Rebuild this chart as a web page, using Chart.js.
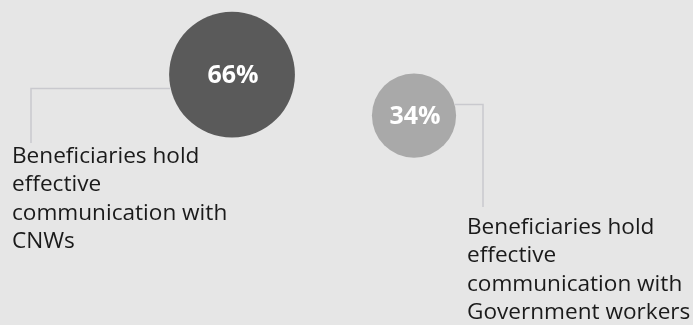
<!DOCTYPE html>
<html>
<head>
<meta charset="utf-8">
<script src="https://cdn.jsdelivr.net/npm/chart.js@4/dist/chart.umd.min.js"></script>
<style>
  html, body { margin: 0; padding: 0; background: #e6e6e6; }
  #wrap { width: 693px; height: 325px; }
</style>
</head>
<body>
<div id="wrap"><canvas id="c" width="693" height="325"></canvas></div>
<script>
// ---- data ----
const categories = [
  ["Beneficiaries hold", "effective", "communication with", "CNWs"],
  ["Beneficiaries hold", "effective", "communication with", "Government workers"]
];
const values = [66, 34];
const valueLabels = ["66%", "34%"];

// ---- styles ----
const bubbleColors = ["#5a5a5a", "#a9a9a9"];
const leaderColor = "#c9c9ce";
// leader layout per item: offset from centre (dy), elbow x, end y, text x, first baseline
const leaders = [
  { dy: 14, elbowX: 31, endY: 143, textX: 12, textY: 163 },
  { dy: -11, elbowX: 483, endY: 207, textX: 467, textY: 234 }
];

const radiusFor = v => 20 + 0.65 * v;

const annot = {
  id: 'annot',
  afterDatasetsDraw(chart) {
    const ctx = chart.ctx;
    const meta = chart.getDatasetMeta(0);
    meta.data.forEach((el, i) => {
      const cx = el.x, cy = el.y, r = el.options.radius;
      const L = leaders[i];
      const dx = Math.sqrt(Math.max(r * r - L.dy * L.dy, 0));
      const startX = L.elbowX < cx ? cx - dx : cx + dx;
      ctx.save();
      ctx.strokeStyle = leaderColor;
      ctx.lineWidth = 1.5;
      ctx.beginPath();
      ctx.moveTo(startX, cy + L.dy);
      ctx.lineTo(L.elbowX, cy + L.dy);
      ctx.lineTo(L.elbowX, L.endY);
      ctx.stroke();

      ctx.fillStyle = "#ffffff";
      ctx.font = "bold 25px 'Open Sans'";
      ctx.textAlign = "center";
      ctx.textBaseline = "middle";
      ctx.fillText(valueLabels[i], cx + 1, cy + 1);

      ctx.fillStyle = "#1a1a1a";
      ctx.font = "22.6px 'Open Sans'";
      ctx.textAlign = "left";
      ctx.textBaseline = "alphabetic";
      categories[i].forEach((line, j) => {
        ctx.fillText(line, L.textX, L.textY + j * 28.3);
      });
      ctx.restore();
    });
  }
};

new Chart(document.getElementById('c'), {
  type: 'bubble',
  data: {
    labels: categories,
    datasets: [{
      data: values.map((v, i) => ({ x: i, y: v, r: radiusFor(v) })),
      backgroundColor: bubbleColors,
      borderWidth: 0
    }]
  },
  options: {
    responsive: false,
    animation: false,
    events: [],
    layout: { padding: 0, autoPadding: false },
    clip: false,
    plugins: { legend: { display: false }, tooltip: { enabled: false } },
    scales: {
      x: { type: 'linear', display: false, min: -1.275, max: 2.533 },
      y: { type: 'linear', display: false, min: -129.5, max: 124.2 }
    }
  },
  plugins: [annot]
});
</script>
</body>
</html>
